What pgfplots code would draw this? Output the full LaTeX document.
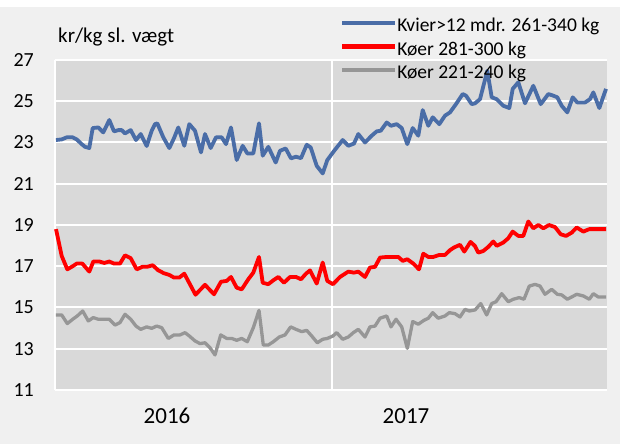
\documentclass[border=0pt]{standalone}
\usepackage{pgfplots}
\pgfplotsset{compat=1.18}
\usepackage{fontspec}
\setmainfont{Carlito}
\definecolor{outerbg}{HTML}{F0F0F0}
\definecolor{plotbg}{HTML}{D9D9D9}
\definecolor{blueline}{HTML}{4A6DA7}
\definecolor{grayline}{HTML}{969696}

\pgfplotstableread{
x y
56 23.12
61.7 23.15
66.7 23.25
72.7 23.25
76.7 23.15
81.7 22.92
85 22.79
89.3 22.73
92.7 23.7
98.3 23.73
103.3 23.49
109.3 24.09
114 23.54
118.3 23.6
121.7 23.6
125 23.44
130.7 23.6
136 23.12
140.7 23.41
146.7 22.83
151.7 23.57
155 23.89
157.3 23.93
163.3 23.25
169.3 22.73
174 23.21
178.3 23.73
184.3 22.84
189.3 23.89
195 23.57
201 22.52
205 23.41
210.7 22.73
216 23.25
221.7 23.25
226 22.92
231 23.73
236.7 22.15
242.7 22.84
247.3 22.47
253.3 22.47
259 23.93
262.7 22.36
268.3 22.79
275.7 22.03
280 22.6
285.7 22.71
291 22.23
296 22.31
301 22.24
306.7 22.89
310.7 22.76
316.7 21.87
322.7 21.5
327.3 22.15
335 22.65
342.7 23.12
348.3 22.84
354 22.95
358.3 23.41
365 23.0
371.7 23.33
376.7 23.54
380.7 23.57
386.7 23.97
391 23.81
396.7 23.89
401.7 23.7
407.3 22.92
412.7 23.7
418.3 23.33
422.7 24.57
428.3 23.81
432.7 24.22
439.3 23.89
445 24.3
450 24.46
456 24.86
462.7 25.35
466 25.27
471.7 24.86
475 24.9
480 25.1
487.3 26.48
491.7 25.19
496.7 25.1
503.3 24.78
509.3 24.67
512.7 25.6
518.3 25.92
525 24.9
533.3 25.75
540.7 24.86
548.3 25.35
553.3 25.27
557.3 25.19
561.7 24.78
567.3 24.46
572.7 25.19
577.3 24.94
585 24.94
590 25.1
593.3 25.43
599.3 24.67
606 25.6
}\kvier

\pgfplotstableread{
x y
56 18.8
61.7 17.5
67.3 16.85
72.7 17.0
76.7 17.13
82.3 17.13
89.3 16.74
93.3 17.23
99.3 17.23
104.3 17.16
109.3 17.23
114 17.13
120 17.13
125 17.53
130.7 17.39
136.7 16.85
142.7 16.98
147.7 16.98
152.7 17.05
158.3 16.8
164 16.66
169.3 16.58
174 16.45
179.3 16.45
184.3 16.64
195.5 15.62
205 16.1
214 15.64
221 16.25
226.7 16.29
231 16.48
236.7 15.96
241.7 15.88
248.3 16.37
253.3 16.69
259 17.45
262.7 16.2
268.3 16.13
273.3 16.32
278.3 16.48
284 16.2
290 16.48
296 16.48
301 16.37
306 16.64
310 16.8
316.7 16.16
322.7 17.18
327.3 16.29
333 16.13
340 16.48
348.3 16.74
354 16.69
358.3 16.74
365 16.48
370 16.94
375 16.97
380 17.42
386.7 17.45
393.3 17.45
398.3 17.45
402.7 17.26
407.3 17.34
413.3 17.13
419 16.85
423.3 17.61
428.3 17.45
433.3 17.45
439.3 17.55
445 17.55
450 17.78
454 17.91
460 18.04
464.3 17.71
470.5 18.18
475 17.98
478.3 17.66
483.3 17.74
488.3 17.94
493.3 18.2
496.7 17.99
503.3 18.15
508.3 18.36
512.7 18.68
518.3 18.47
523.3 18.47
528.3 19.17
533.3 18.84
538.3 19.0
543.3 18.84
549 19.0
555 18.9
560.7 18.55
566 18.47
571.7 18.63
576.7 18.88
583.3 18.68
589.3 18.8
595 18.8
606 18.8
}\koerA

\pgfplotstableread{
x y
56 14.64
61.7 14.64
67.3 14.22
72.7 14.43
77.3 14.59
82.7 14.83
88.3 14.35
93.3 14.51
98.3 14.43
103.3 14.43
109.3 14.43
115 14.15
120 14.27
125 14.67
130.7 14.43
136 14.1
140.7 13.94
146.7 14.06
151.7 13.99
156.7 14.1
161.7 14.02
168.3 13.5
174 13.67
180 13.67
185 13.78
189.3 13.62
195 13.38
200 13.25
205 13.29
210 13.05
215 12.7
220.7 13.67
226.7 13.5
231.7 13.5
236.7 13.41
241.7 13.5
247.3 13.34
253.3 14.02
259 14.86
263.3 13.18
268.3 13.18
273.3 13.34
279.3 13.57
285 13.67
290.7 14.06
296 13.94
301.7 13.83
306.7 13.89
311.7 13.62
317.3 13.29
322.7 13.46
327.3 13.5
333 13.62
336.7 13.78
342.7 13.46
348.3 13.57
353.3 13.78
358.3 13.94
365 13.57
370 14.06
375 14.1
380 14.48
386.7 14.59
391 14.06
396 14.43
401.7 14.06
407.3 13.02
412.7 14.32
418.3 14.19
424 14.38
428.3 14.48
432.7 14.75
438.3 14.48
445 14.59
449.3 14.75
455 14.7
460 14.54
465 14.91
469.3 14.83
475 14.88
480.7 15.19
486.7 14.64
491.7 15.19
496 15.28
501.7 15.67
508.3 15.28
513.3 15.4
519.3 15.48
524 15.4
529.3 16.04
535 16.12
540 16.04
545 15.64
551.7 15.88
557.3 15.64
561.7 15.61
567.3 15.4
571.7 15.51
576.7 15.64
583.3 15.56
589.3 15.4
593.3 15.67
598.3 15.51
606 15.51
}\koerB

\begin{document}
\begin{tikzpicture}[x=1pt,y=1pt]
\fill[white] (0,0) rectangle (620,444);
\fill[outerbg] (0,0) rectangle (620,437);
\begin{axis}[
  at={(55pt,54pt)}, anchor=south west,
  scale only axis, width=552pt, height=330pt,
  xmin=55, xmax=607, ymin=11, ymax=27,
  axis background/.style={fill=plotbg},
  axis line style={draw=none},
  ytick={11,13,...,27},
  ymajorgrids,
  grid style={white, line width=2pt},
  xtick={167,406}, xticklabels={2016,2017},
  extra x ticks={55,332}, extra x tick labels={},
  extra x tick style={grid=major},
  major tick length=0pt,
  tick style={draw=none},
  /pgf/number format/assume math mode=true,
  yticklabel style={font=\fontsize{20}{24}\selectfont, anchor=east, inner sep=0pt, xshift=-21pt},
  xticklabel style={font=\fontsize{23}{27}\selectfont, anchor=north, inner sep=0pt, yshift=-18pt},
  legend cell align=left,
  legend style={draw=none, fill=none, at={(0.5163,1.1273)}, anchor=north west,
    inner sep=0pt, outer sep=0pt, row sep=3.5pt,
    font=\fontsize{19.5}{23}\selectfont,
    nodes={inner sep=0pt, text height=14pt, text depth=6pt}},
  legend image code/.code={\draw[#1, line width=4.3pt] (0pt,5pt) -- (53pt,5pt);},
  /tikz/every even column/.append style={column sep=6pt},
  clip=false,
]
\addplot[blueline, line width=3.8pt, line join=round] table[x=x,y=y] {\kvier};
\addlegendentry{Kvier>12 mdr. 261-340 kg}
\addplot[red, line width=3.8pt, line join=round] table[x=x,y=y] {\koerA};
\addlegendentry{Køer 281-300 kg}
\addplot[grayline, line width=3.3pt, line join=round] table[x=x,y=y] {\koerB};
\addlegendentry{Køer 221-240 kg}
\end{axis}
\node[anchor=base west, inner sep=0pt, font=\fontsize{21}{25}\selectfont] at (58,401) {kr/kg sl. vægt};
\end{tikzpicture}
\end{document}
